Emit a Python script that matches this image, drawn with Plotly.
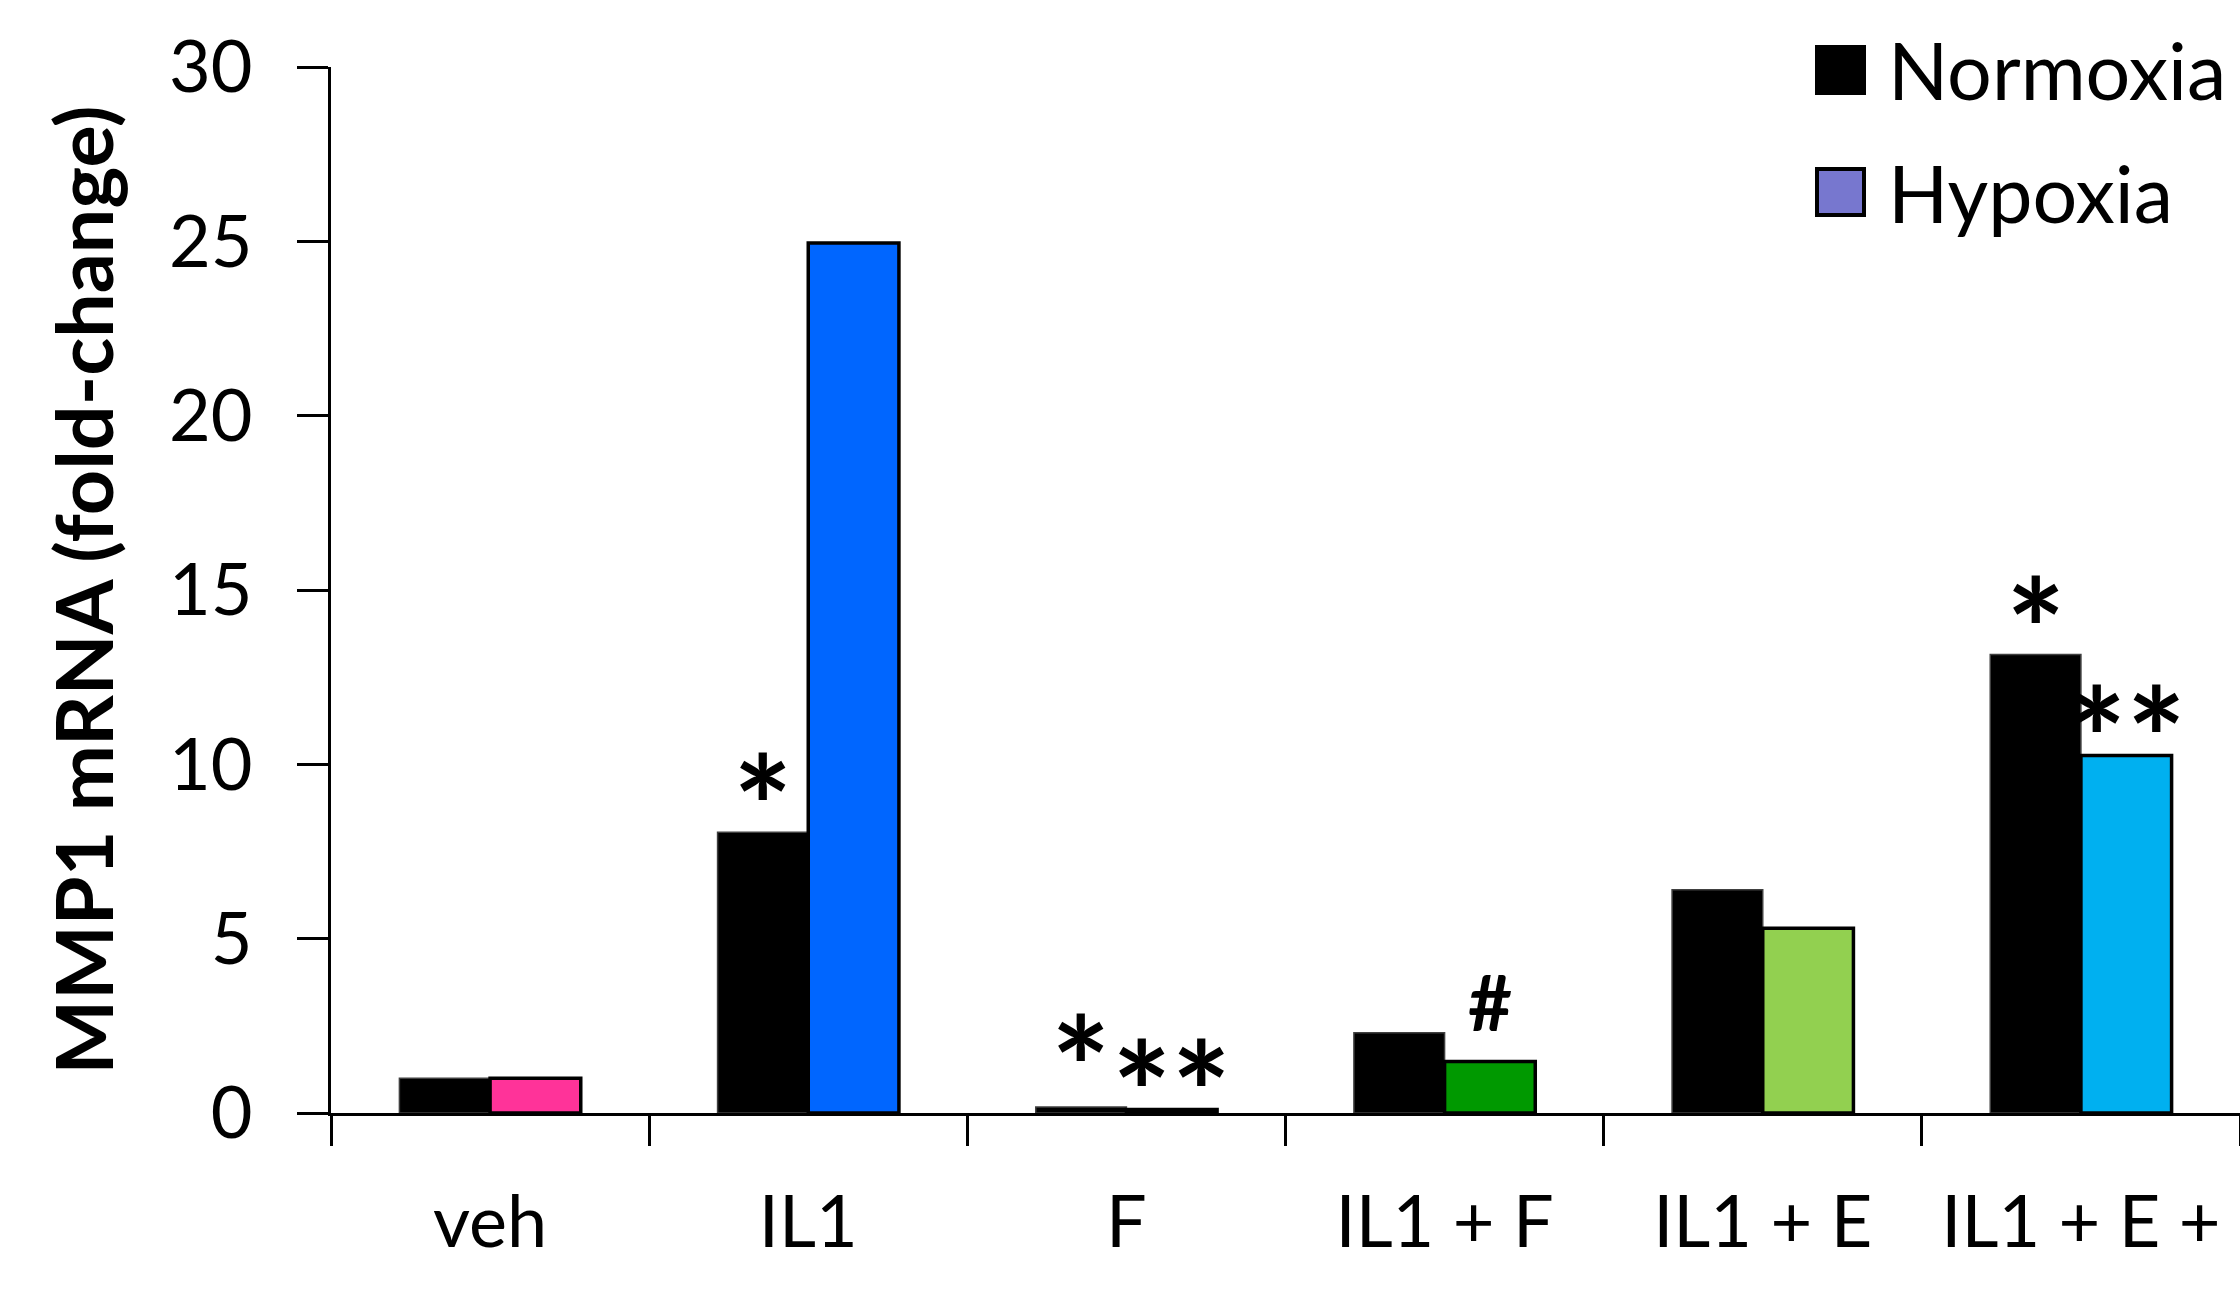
import plotly.graph_objects as go

categories = ["veh", "IL1", "F", "IL1 + F", "IL1 + E", "IL1 + E +"]
normoxia = [1.0, 8.05, 0.17, 2.3, 6.4, 13.15]
hypoxia = [1.0, 24.95, 0.1, 1.48, 5.3, 10.25]
hypoxia_colors = ["#FF3399", "#0066FF", "#3A3A3A", "#009900", "#92D050", "#00B0F0"]
y_ticks = [0, 5, 10, 15, 20, 25, 30]
# significance marks: (category index, series, text)
marks = [(1, "n", "*"), (2, "n", "*"), (2, "h", "**"), (3, "h", "#"), (5, "n", "*"), (5, "h", "**")]

W, H = 2240, 1289
ML, MR, MT, MB = 331, 0, 67, 176
FONT = "Lato"
BARGAP = 0.43
# vertical placement tweaks for annotation glyphs (pixels)
STAR_SHIFT = -59
MARK_NUDGE = {(2, "n"): 14, (2, "h"): -8, (5, "h"): -8}

fig = go.Figure()
fig.add_trace(go.Bar(x=categories, y=normoxia, name="Normoxia", offsetgroup="n",
                     marker=dict(color="black", line=dict(color="#404040", width=1.5)),
                     showlegend=False))
fig.add_trace(go.Bar(x=categories, y=hypoxia, name="Hypoxia", offsetgroup="h",
                     marker=dict(color=hypoxia_colors, line=dict(color="black", width=3.5)),
                     showlegend=False))

half = (1 - BARGAP) / 4
vals = {"n": normoxia, "h": hypoxia}
for i, s, t in marks:
    xpos = i - half if s == "n" else i + half
    big = t != "#"
    shift = (STAR_SHIFT if big else 12) + MARK_NUDGE.get((i, s), 0)
    fig.add_annotation(x=xpos, y=vals[s][i], xref="x", yref="y", text=t, showarrow=False,
                       yanchor="bottom", yshift=shift,
                       font=dict(family=FONT, size=(140 if big else 76), color="black",
                                 weight="bold"))

# legend drawn manually (large swatches)
def px_x(p):
    return (p - ML) / (W - ML - MR)

def px_y(p):
    return 1 - (p - MT) / (H - MT - MB)

legend_items = [("Normoxia", "black", 47), ("Hypoxia", "#7777CF", 169)]
for name, col, top in legend_items:
    fig.add_shape(type="rect", xref="paper", yref="paper",
                  x0=px_x(1817), x1=px_x(1864), y0=px_y(top), y1=px_y(top + 46),
                  fillcolor=col, line=dict(color="black", width=4))
    fig.add_annotation(xref="paper", yref="paper", x=px_x(1886), y=px_y(top + 23),
                       xanchor="left", yanchor="middle", text=name, showarrow=False,
                       font=dict(family=FONT, size=79, color="black"))

fig.update_layout(
    width=W, height=H,
    margin=dict(l=ML, r=MR, t=MT, b=MB, pad=0, autoexpand=False),
    paper_bgcolor="white", plot_bgcolor="white",
    barmode="group", bargap=BARGAP, bargroupgap=0,
    font=dict(family=FONT, color="black"),
    xaxis=dict(showline=True, linecolor="black", linewidth=3, ticks="outside",
               tickson="boundaries", ticklen=30, tickwidth=3, tickcolor="black",
               tickfont=dict(size=72, family=FONT), ticklabelstandoff=45,
               showgrid=False, zeroline=False, automargin=False),
    yaxis=dict(range=[0, 30], tickvals=y_ticks, showline=True, linecolor="black", linewidth=3,
               ticks="outside", ticklen=31, tickwidth=3, tickcolor="black",
               tickfont=dict(size=72, family=FONT), ticklabelstandoff=30,
               showgrid=False, zeroline=False, automargin=False,
               title=dict(text="<b>MMP1 mRNA (fold-change)</b>", standoff=30,
                          font=dict(size=79, family=FONT))),
)

fig.write_html("out.html", config={"displayModeBar": False},
               post_script="document.body.style.margin='0';document.body.style.padding='0';"
                           "document.body.style.overflow='hidden';")
